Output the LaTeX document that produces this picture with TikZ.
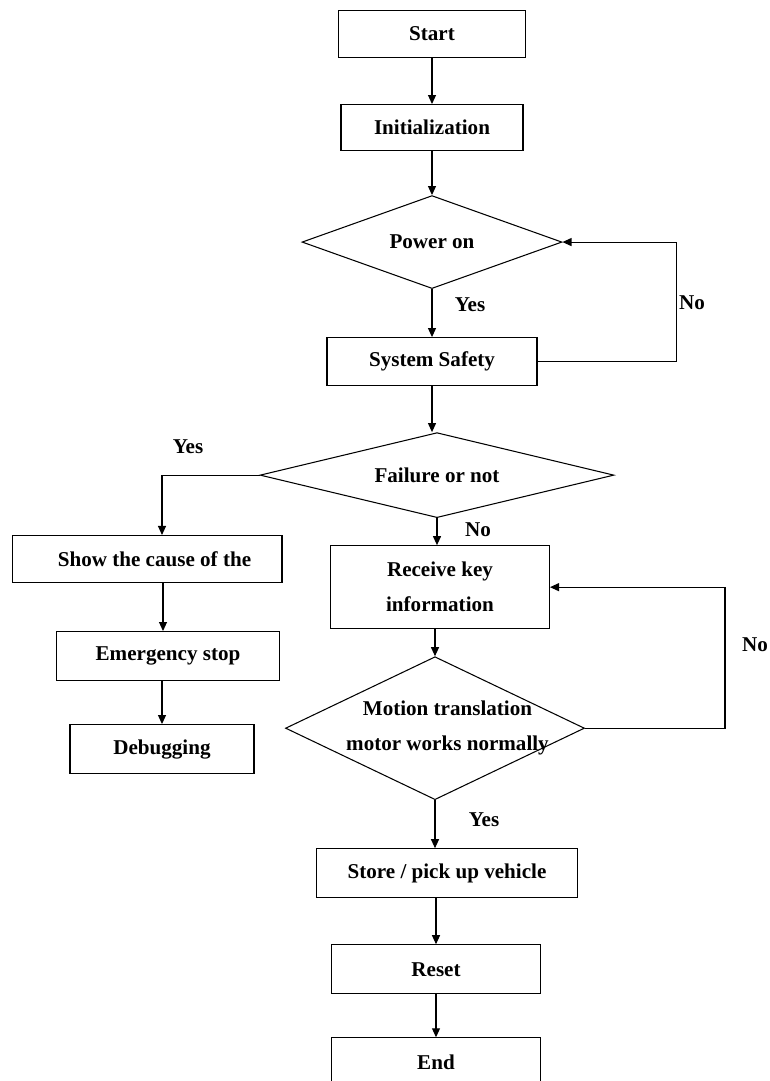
\documentclass[tikz,border=0pt]{standalone}
\usepackage{fontspec}
\setmainfont{Liberation Serif}
\usepackage{tikz}
\usetikzlibrary{positioning,shapes.geometric,arrows.meta}
\newcommand{\zw}[1]{\makebox[0pt]{#1}}

\begin{document}
\begin{tikzpicture}[
  x=0.02cm, y=-0.02cm,
  node distance=0.94cm,
  box/.style={
    rectangle, draw, line width=0.6pt,
    align=center, inner sep=2pt,
    font=\fontsize{12}{20}\selectfont\bfseries
  },
  dia/.style={
    diamond, draw, line width=0.6pt,
    align=center, inner sep=0pt,
    font=\fontsize{12}{20}\selectfont\bfseries
  },
  lbl/.style={font=\fontsize{12}{14}\selectfont\bfseries},
  arr/.style={-{Triangle[length=1.8mm,width=1.6mm]},line width=0.6pt}
]
\useasboundingbox (0,0) rectangle (769,1081);

\node[box,minimum width=3.74cm,minimum height=0.94cm] (start) at (432,34) {Start};

\node[box,minimum width=3.64cm,minimum height=0.92cm,below=0.92cm of start] (init)
  {Initialization};

\node[dia,minimum width=5.2cm,minimum height=1.86cm,below=0.88cm of init] (power)
  {\zw{Power on}};

\node[box,minimum width=4.2cm,minimum height=0.96cm,below=0.96cm of power] (safety)
  {System Safety};

\node[dia,minimum width=7.08cm,minimum height=1.7cm,below=0.92cm of safety,xshift=0.1cm] (fail)
  {\zw{Failure or not}};

\node[box,minimum width=4.38cm,minimum height=1.66cm,below=0.54cm of fail,xshift=0.06cm] (receive)
  {Receive key\\information};

\node[dia,minimum width=5.98cm,minimum height=2.86cm,below=0.54cm of receive,xshift=-0.1cm] (motion)
  {\raisebox{0.08cm}{\zw{\hspace{0.5cm}Motion translation}}\\\raisebox{0.08cm}{\zw{\hspace{0.5cm}motor works normally}}};

\node[box,minimum width=5.22cm,minimum height=0.98cm,below=0.96cm of motion,xshift=0.24cm] (store)
  {Store / pick up vehicle};

\node[box,minimum width=4.18cm,minimum height=0.98cm,below=0.92cm of store,xshift=-0.22cm] (reset)
  {Reset};

\node[box,minimum width=4.18cm,minimum height=0.98cm,below=0.86cm of reset] (end)
  {End};

\node[box,minimum width=5.4cm,minimum height=0.94cm] (show) at (147,559)
  {\hspace{0.3cm}Show the cause of the};

\node[box,minimum width=4.46cm,minimum height=0.98cm,below=0.96cm of show,xshift=0.42cm] (emerg)
  {Emergency stop};

\node[box,minimum width=3.68cm,minimum height=0.98cm,below=0.86cm of emerg,xshift=-0.12cm] (debug)
  {Debugging};

\node[lbl] (yes1) at (470,305) {Yes};
\node[lbl] (no1) at (692,303) {No};
\node[lbl] (yes2) at (188,447) {Yes};
\node[lbl] (no2) at (478,530) {No};
\node[lbl] (no3) at (755,645) {No};
\node[lbl] (yes3) at (484,820) {Yes};

\draw[arr](start)--(init);
\draw[arr](init)--(power);
\draw[arr](power)--(safety);
\draw[arr](safety.east)--++(2.78cm,0)|-(power.east);
\draw[arr](safety.south)--(safety.south|-fail.north);
\draw[arr](fail.west)-|([xshift=0.3cm]show.north);
\draw[arr](fail.south)--(fail.south|-receive.north);
\draw[arr](motion.north|-receive.south)--(motion.north);
\draw[arr](motion.east)--++(2.8cm,0)|-(receive.east);
\draw[arr](motion.south)--(motion.south|-store.north);
\draw[arr](reset.north|-store.south)--(reset.north);
\draw[arr](reset)--(end);
\draw[arr]([xshift=0.32cm]show.south)--([xshift=0.32cm]show.south|-emerg.north);
\draw[arr](debug.north|-emerg.south)--(debug.north);
\end{tikzpicture}
\end{document}
